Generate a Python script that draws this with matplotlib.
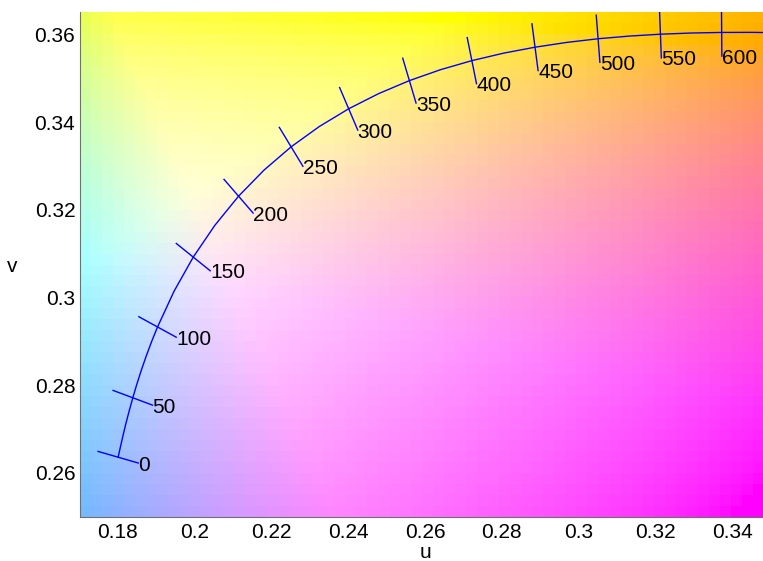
import numpy as np
import matplotlib
matplotlib.use('Agg')
import matplotlib.pyplot as plt

plt.rcParams['font.family'] = ['Liberation Sans', 'DejaVu Sans']

# Planckian locus in CIE 1960 UCS, sampled in mired (Robertson's table + 2 extra points)
mired = [0, 10, 20, 30, 40, 50, 60, 70, 80, 90, 100, 125, 150, 175, 200, 225, 250,
         275, 300, 325, 350, 375, 400, 425, 450, 475, 500, 525, 550, 575, 600, 625, 650]
u_loc = [0.18006, 0.18066, 0.18133, 0.18208, 0.18293, 0.18388, 0.18494, 0.18611,
         0.18740, 0.18880, 0.19032, 0.19462, 0.19962, 0.20525, 0.21142, 0.21807,
         0.22511, 0.23247, 0.24010, 0.24792, 0.25591, 0.26400, 0.27218, 0.28039,
         0.28863, 0.29685, 0.30505, 0.31320, 0.32129, 0.32931, 0.33724, 0.34510, 0.35280]
v_loc = [0.26352, 0.26589, 0.26846, 0.27119, 0.27407, 0.27709, 0.28021, 0.28342,
         0.28668, 0.28997, 0.29326, 0.30141, 0.30921, 0.31647, 0.32312, 0.32909,
         0.33439, 0.33904, 0.34308, 0.34655, 0.34951, 0.35200, 0.35407, 0.35577,
         0.35714, 0.35823, 0.35907, 0.35968, 0.36011, 0.36038, 0.36051, 0.36053, 0.36043]

label_mired = [0, 50, 100, 150, 200, 250, 300, 350, 400, 450, 500, 550, 600]

u_ticks = [0.18, 0.20, 0.22, 0.24, 0.26, 0.28, 0.30, 0.32, 0.34]
v_ticks = [0.26, 0.28, 0.30, 0.32, 0.34, 0.36]

u_lim = (0.17, 0.348)
v_lim = (0.2498, 0.3651)


def uv_to_rgb(u, v, bright=2.75, power=0.6):
    den = 2 * u - 8 * v + 4
    x = 3 * u / den
    y = 2 * v / den
    xyz = np.stack([x, y, 1 - x - y], axis=-1) * bright
    M = np.array([[3.2406, -1.5372, -0.4986],
                  [-0.9689, 1.8758, 0.0415],
                  [0.0557, -0.2040, 1.0570]])
    rgb = np.clip(xyz @ M.T, 0, 1)
    return rgb ** power


fig = plt.figure(figsize=(7.63, 5.61), dpi=100)
ax = fig.add_axes([0.1042, 0.0779, 0.8958, 0.9001])

# chromaticity background, coarse blocks
nx, ny = 62, 46
du = (u_lim[1] - u_lim[0]) / nx
dv = (v_lim[1] - v_lim[0]) / ny
uc = u_lim[0] + du * (np.arange(nx) + 0.5)
vc = v_lim[0] + dv * (np.arange(ny) + 0.5)
UU, VV = np.meshgrid(uc, vc)
ax.imshow(uv_to_rgb(UU, VV), origin='lower', aspect='auto',
          extent=(u_lim[0], u_lim[1], v_lim[0], v_lim[1]), interpolation='nearest')

# locus
u_arr = np.array(u_loc)
v_arr = np.array(v_loc)
m_arr = np.array(mired, dtype=float)
ax.plot(u_arr, v_arr, color='#0000ff', lw=1.0)

# isotherm ticks, normal to the locus
du_dm = np.gradient(u_arr, m_arr)
dv_dm = np.gradient(v_arr, m_arr)
half = 0.0054
for m in label_mired:
    i = mired.index(m)
    nu, nv = dv_dm[i], -du_dm[i]
    n = np.hypot(nu, nv)
    nu, nv = nu / n, nv / n
    ax.plot([u_arr[i] - half * nu, u_arr[i] + half * nu],
            [v_arr[i] - half * nv, v_arr[i] + half * nv], color='#0000ff', lw=1.0)
    ax.text(u_arr[i] + half * nu, v_arr[i] + half * nv, str(m),
            fontsize=15, ha='left', va='center_baseline', color='black')

ax.set_xlim(*u_lim)
ax.set_ylim(*v_lim)
ax.set_xticks(u_ticks)
ax.set_xticklabels(['%g' % t for t in u_ticks])
ax.set_yticks(v_ticks)
ax.set_yticklabels(['%g' % t for t in v_ticks])
ax.tick_params(length=0, labelsize=15)
ax.tick_params(axis='x', pad=4)
ax.tick_params(axis='y', pad=3)
for s in ['top', 'right']:
    ax.spines[s].set_visible(False)
for s in ['left', 'bottom']:
    ax.spines[s].set_color('#707070')
    ax.spines[s].set_linewidth(0.8)

fig.text(425 / 763, 1 - 551 / 561, 'u', fontsize=15, ha='center', va='center_baseline')
fig.text(12 / 763, 1 - 265 / 561, 'v', fontsize=15, ha='center', va='center_baseline')

fig.savefig('out.png', dpi=100)
